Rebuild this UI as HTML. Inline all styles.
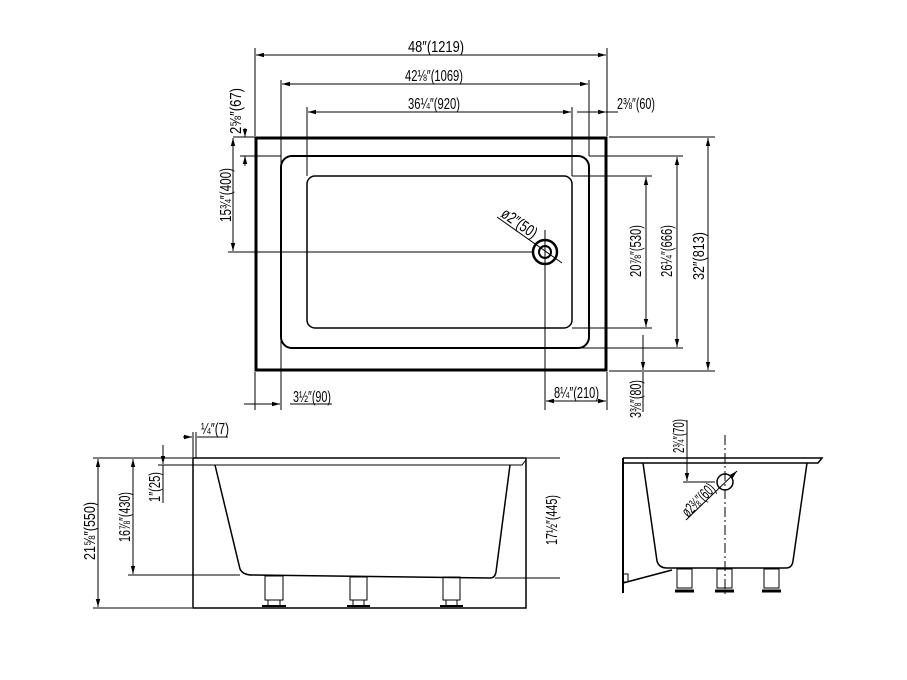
<!DOCTYPE html>
<html><head><meta charset="utf-8"><style>
html,body{margin:0;padding:0;background:#fff;}
svg{display:block;}
text{font-family:"Liberation Sans",sans-serif;font-size:16px;fill:#000;}
</style></head><body>
<svg width="907" height="680" viewBox="0 0 907 680" xmlns="http://www.w3.org/2000/svg">
<defs>
<marker id="a" markerWidth="8" markerHeight="6" refX="8" refY="3" orient="auto-start-reverse" markerUnits="userSpaceOnUse"><path d="M0,0.8 L8,3 L0,5.2 Z" fill="#000"/></marker>
</defs>
<g stroke="#000" fill="none" stroke-width="1">
<rect x="256" y="138" width="350" height="232" stroke-width="3"/>
<rect x="281" y="156" width="308" height="192" rx="11" stroke-width="2"/>
<rect x="307" y="176" width="265" height="152" rx="8" stroke-width="1.5"/>
<circle cx="545" cy="252" r="12" stroke-width="2.5"/>
<circle cx="545" cy="252" r="6" stroke-width="2"/>
<line x1="255" y1="48" x2="255" y2="136"/><line x1="607" y1="48" x2="607" y2="136"/>
<line x1="256" y1="55" x2="606" y2="55" marker-start="url(#a)" marker-end="url(#a)"/>
<line x1="281" y1="80" x2="281" y2="410"/><line x1="589" y1="80" x2="589" y2="156"/>
<line x1="282" y1="84" x2="588" y2="84" marker-start="url(#a)" marker-end="url(#a)"/>
<line x1="307" y1="107" x2="307" y2="176"/><line x1="572" y1="107" x2="572" y2="176"/>
<line x1="308" y1="112" x2="571" y2="112" marker-start="url(#a)" marker-end="url(#a)"/>
<line x1="577" y1="112" x2="606" y2="112" marker-end="url(#a)"/>
<line x1="606" y1="112" x2="618" y2="112"/>
<line x1="233" y1="137" x2="255" y2="137"/>
<line x1="240" y1="156" x2="281" y2="156"/>
<line x1="245" y1="128" x2="245" y2="137" marker-end="url(#a)"/>
<line x1="245" y1="166" x2="245" y2="156" marker-end="url(#a)"/>
<line x1="233" y1="138" x2="233" y2="251" marker-start="url(#a)" marker-end="url(#a)"/>
<line x1="228" y1="252" x2="533" y2="252"/>
<line x1="545" y1="230" x2="545" y2="410"/>
<line x1="572" y1="176" x2="652" y2="176"/><line x1="572" y1="328" x2="652" y2="328"/>
<line x1="646" y1="177" x2="646" y2="327" marker-start="url(#a)" marker-end="url(#a)"/>
<line x1="589" y1="156" x2="683" y2="156"/><line x1="580" y1="348" x2="683" y2="348"/>
<line x1="677" y1="157" x2="677" y2="347" marker-start="url(#a)" marker-end="url(#a)"/>
<line x1="609" y1="137" x2="715" y2="137"/><line x1="609" y1="371" x2="715" y2="371"/>
<line x1="708" y1="138" x2="708" y2="370" marker-start="url(#a)" marker-end="url(#a)"/>
<line x1="643" y1="335" x2="643" y2="370" marker-end="url(#a)"/>
<line x1="643" y1="372" x2="643" y2="412"/>
<line x1="255" y1="372" x2="255" y2="410"/>
<line x1="244" y1="404" x2="280" y2="404" marker-end="url(#a)"/>
<line x1="290" y1="404" x2="332" y2="404"/>
<line x1="607" y1="372" x2="607" y2="410"/>
<line x1="546" y1="401" x2="606" y2="401" marker-start="url(#a)" marker-end="url(#a)"/>
<line x1="497" y1="217" x2="562" y2="263"/>
<rect x="193" y="458" width="333" height="150" stroke-width="1.5"/>
<path d="M193,465 L522,465 L526,460"/>
<path d="M215,465 L240,569 Q243,575 252,575 L490,578 Q495,578 496,572 L510,465" stroke-width="1.5"/>
<rect x="265" y="576" width="18" height="24"/><rect x="268" y="600" width="12" height="6"/><line x1="262" y1="606" x2="286" y2="606" stroke-width="2"/>
<rect x="350" y="577" width="17" height="23"/><rect x="353" y="600" width="11" height="6"/><line x1="347" y1="606" x2="370" y2="606" stroke-width="2"/>
<rect x="443" y="577" width="17" height="23"/><rect x="446" y="600" width="11" height="6"/><line x1="440" y1="606" x2="463" y2="606" stroke-width="2"/>
<line x1="93" y1="458" x2="192" y2="458"/><line x1="93" y1="608" x2="192" y2="608"/>
<line x1="98" y1="459" x2="98" y2="607" marker-start="url(#a)" marker-end="url(#a)"/>
<line x1="128" y1="575" x2="240" y2="575"/>
<line x1="133" y1="459" x2="133" y2="574" marker-start="url(#a)" marker-end="url(#a)"/>
<line x1="158" y1="465" x2="193" y2="465"/>
<line x1="163" y1="445" x2="163" y2="464" marker-end="url(#a)"/>
<line x1="163" y1="465" x2="163" y2="503"/>
<line x1="193" y1="432" x2="193" y2="458"/><line x1="196" y1="432" x2="196" y2="458"/>
<line x1="183" y1="437" x2="192" y2="437" marker-end="url(#a)"/>
<line x1="197" y1="437" x2="228" y2="437"/>
<line x1="527" y1="458" x2="560" y2="458"/><line x1="495" y1="578" x2="560" y2="578"/>
<line x1="526" y1="459" x2="526" y2="577"/>
<path d="M623,458 L822,458 L818,463 L623,463" stroke-width="1.5"/>
<line x1="623" y1="458" x2="623" y2="593" stroke-width="2"/>
<path d="M643,463 L657,561 Q659,568 667,568 L786,568 Q792,568 793,561 L807,463" stroke-width="1.5"/>
<line x1="623" y1="583" x2="672" y2="570" stroke-width="1.5"/>
<rect x="623" y="574" width="5" height="8"/>
<rect x="677" y="569" width="15" height="19"/><line x1="675" y1="591" x2="694" y2="591" stroke-width="3"/>
<rect x="717" y="569" width="15" height="19"/><line x1="715" y1="591" x2="734" y2="591" stroke-width="3"/>
<rect x="764" y="569" width="15" height="19"/><line x1="762" y1="591" x2="781" y2="591" stroke-width="3"/>
<circle cx="725" cy="482" r="8" stroke-width="1.5"/>
<line x1="725" y1="435" x2="725" y2="597" stroke-dasharray="10,3,2,3"/>
<line x1="687" y1="420" x2="687" y2="481" marker-end="url(#a)"/>
<line x1="683" y1="482" x2="715" y2="482"/>
<line x1="686" y1="520" x2="737" y2="471" marker-end="url(#a)"/>
</g>
<g>
<text x="408" y="52" textLength="56" lengthAdjust="spacingAndGlyphs">48″(1219)</text>
<text x="405" y="81" textLength="58" lengthAdjust="spacingAndGlyphs">42⅛″(1069)</text>
<text x="408" y="109" textLength="52" lengthAdjust="spacingAndGlyphs">36¼″(920)</text>
<text x="617" y="109" textLength="38" lengthAdjust="spacingAndGlyphs">2⅜″(60)</text>
<text x="293" y="402" textLength="38" lengthAdjust="spacingAndGlyphs">3½″(90)</text>
<text x="554" y="398" textLength="45" lengthAdjust="spacingAndGlyphs">8¼″(210)</text>
<text transform="translate(241,134) rotate(-90)" textLength="46" lengthAdjust="spacingAndGlyphs">2⅝″(67)</text>
<text transform="translate(231,222) rotate(-90)" textLength="54" lengthAdjust="spacingAndGlyphs">15¾″(400)</text>
<text transform="translate(641,277) rotate(-90)" textLength="52" lengthAdjust="spacingAndGlyphs">20⅞″(530)</text>
<text transform="translate(672,277) rotate(-90)" textLength="52" lengthAdjust="spacingAndGlyphs">26¼″(666)</text>
<text transform="translate(704,280) rotate(-90)" textLength="48" lengthAdjust="spacingAndGlyphs">32″(813)</text>
<text transform="translate(641,418) rotate(-90)" textLength="38" lengthAdjust="spacingAndGlyphs">3⅜″(80)</text>
<text transform="translate(500,216) rotate(35)" textLength="40" lengthAdjust="spacingAndGlyphs">ø2″(50)</text>
<text x="201" y="434" textLength="28" lengthAdjust="spacingAndGlyphs">¼″(7)</text>
<text transform="translate(95,560) rotate(-90)" textLength="58" lengthAdjust="spacingAndGlyphs">21⅝″(550)</text>
<text transform="translate(130,542) rotate(-90)" textLength="50" lengthAdjust="spacingAndGlyphs">16⅞″(430)</text>
<text transform="translate(160,502) rotate(-90)" textLength="30" lengthAdjust="spacingAndGlyphs">1″(25)</text>
<text transform="translate(557,545) rotate(-90)" textLength="50" lengthAdjust="spacingAndGlyphs">17½″(445)</text>
<text transform="translate(684,453) rotate(-90)" textLength="34" lengthAdjust="spacingAndGlyphs">2¾″(70)</text>
<text transform="translate(688,518) rotate(-45)" textLength="40" lengthAdjust="spacingAndGlyphs">ø2⅜″(60)</text>
</g>
</svg>
</body></html>
